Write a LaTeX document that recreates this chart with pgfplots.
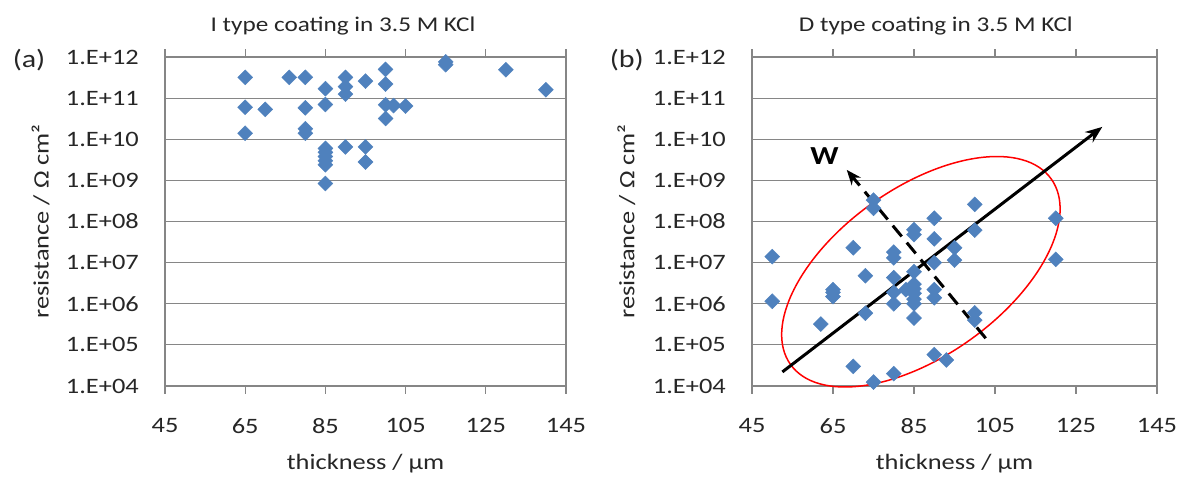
\documentclass[border=0pt]{standalone}
\usepackage{fontspec}
\setmainfont{Carlito}[FakeStretch=1.2]
\usepackage{pgfplots}
\pgfplotsset{compat=1.18}
\usetikzlibrary{arrows.meta,shapes.geometric}

\definecolor{markblue}{RGB}{79,129,189}
\definecolor{gridgray}{RGB}{134,134,134}

\newcommand{\lblfont}{\fontsize{22}{22}\selectfont}

\pgfplotsset{
  resplot/.style={
    scale only axis,
    height=329pt,
    xmin=45, xmax=145,
    ymin=1e4, ymax=1e12,
    xtick={45,65,85,105,125,145},
    xticklabels={45,65,85,105,125,145},
    ytick={1e4,1e5,1e6,1e7,1e8,1e9,1e10,1e11,1e12},
    yticklabels={1.E+04,1.E+05,1.E+06,1.E+07,1.E+08,1.E+09,1.E+10,1.E+11,1.E+12},
    yminorticks=false,
    ymajorgrids=true,
    grid style={gridgray, line width=1.2pt},
    axis line style={gridgray, line width=1.2pt},
    tick align=outside,
    major tick length=8pt,
    xtick style={gridgray, line width=1.2pt},
    ytick style={draw=none},
    tick label style={font=\lblfont, text=black!85},
    yticklabel style={anchor=east, inner sep=0pt, xshift=-18pt},
    xticklabel style={anchor=north, inner sep=0pt, yshift=-24pt},
    every axis y label/.style={at={(axis description cs:-0.31,0.5)}, rotate=90,
      anchor=center, font=\lblfont, text=black!85},
    every axis x label/.style={at={(axis description cs:0.5,-0.255)}, anchor=base,
      font=\lblfont, text=black!85},
    xlabel={thickness / µm},
    ylabel={resistance / Ω cm²},
    clip=false,
  },
  diam/.style={only marks, mark=square*, mark size=5.3pt,
    mark options={rotate=45, fill=markblue, draw=markblue}},
}

\begin{document}
\begin{tikzpicture}
\useasboundingbox (0,0) rectangle (1186pt,-477pt);

% (a) I type
\begin{axis}[ymode=log, resplot, width=401pt, at={(165pt,-386pt)}, anchor=south west,
  title={I type coating in 3.5 M KCl},
  every axis title/.style={at={(axis description cs:0.444,1.076)}, anchor=base,
    font=\fontsize{21}{21}\selectfont, text=black!85},
]
\addplot[diam] coordinates {
  (65,3.2e11) (65,6e10) (65,1.4e10) (70,5.3e10)
  (76,3.2e11) (80,3.2e11) (80,5.8e10) (80,1.8e10) (80,1.4e10)
  (85,1.7e11) (85,7e10) (85,6e9) (85,4.8e9) (85,3.8e9) (85,3e9) (85,2.4e9) (85,8.4e8)
  (90,3.2e11) (90,1.9e11) (90,1.25e11) (90,6.5e9)
  (95,2.6e11) (95,6.5e9) (95,2.8e9)
  (100,5e11) (100,2.2e11) (100,6.9e10) (100,3.2e10) (102,6.6e10) (105,6.4e10)
  (115,7.6e11) (115,6.5e11) (130,4.9e11) (140,1.6e11)
};
\node[font=\fontsize{25}{25}\selectfont, text=black!85] at (axis description cs:-0.339,0.991) {(a)};
\end{axis}

% (b) D type
\begin{axis}[ymode=log, resplot, width=405pt, at={(752pt,-386pt)}, anchor=south west,
  title={D type coating in 3.5 M KCl},
  every axis title/.style={at={(axis description cs:0.454,1.076)}, anchor=base,
    font=\fontsize{21}{21}\selectfont, text=black!85},
]
\addplot[diam] coordinates {
  (50,1.4e7) (50,1.15e6) (62,3.2e5) (65,2.2e6) (65,1.9e6) (65,1.5e6)
  (70,2.3e7) (70,3e4) (73,4.8e6) (73,5.9e5)
  (75,3.3e8) (75,2.1e8) (75,1.25e4)
  (80,1.8e7) (80,1.3e7) (80,4.3e6) (80,1.9e6) (80,1e6) (80,2e4)
  (83,2.2e6)
  (85,6.3e7) (85,4.8e7) (85,6e6) (85,3e6) (85,2.3e6) (85,1.8e6) (85,1.3e6) (85,1e6) (85,4.5e5)
  (90,1.2e8) (90,3.8e7) (90,1e7) (90,2.2e6) (90,1.4e6) (90,5.8e4) (93,4.3e4)
  (95,2.3e7) (95,1.15e7)
  (100,2.6e8) (100,6.2e7) (100,6e5) (100,4e5)
  (120,1.2e8) (120,1.2e7)
};
\node[draw=red, line width=1.5pt, ellipse, minimum width=320pt, minimum height=168pt,
  inner sep=0pt, rotate=35.4] at (axis cs:86.7,6e6) {};
\draw[line width=3pt, -{Stealth[length=17pt,width=13pt]}]
  (axis cs:52.5,2.2e4) -- (axis cs:131.5,2e10);
\draw[line width=3pt, dash pattern=on 14pt off 8pt, -{Stealth[length=15pt,width=12pt]}]
  (axis cs:102.7,1.45e5) -- (axis cs:68.4,1.8e9);
\node[font=\bfseries\fontsize{26}{26}\selectfont] at (axis cs:62.9,3.8e9) {W};
\node[font=\fontsize{25}{25}\selectfont, text=black!85] at (axis description cs:-0.309,0.991) {(b)};
\end{axis}
\end{tikzpicture}
\end{document}
